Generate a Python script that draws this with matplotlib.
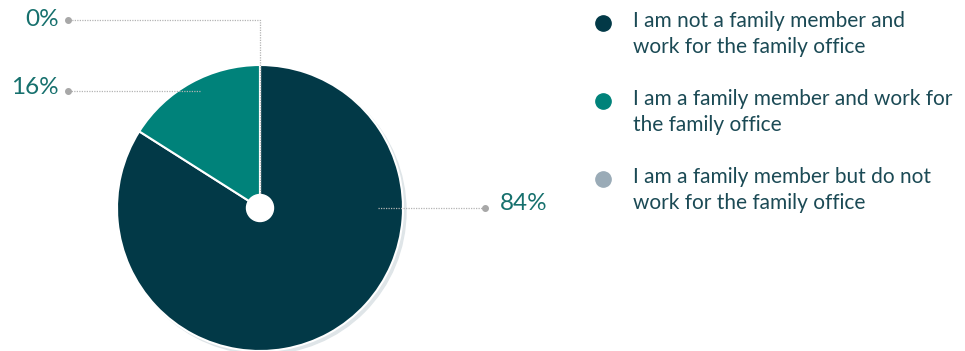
import matplotlib
matplotlib.use("Agg")
import matplotlib.pyplot as plt
from matplotlib.patches import Circle

plt.rcParams['font.family'] = ['Lato', 'DejaVu Sans']

categories = [
    "I am not a family member and\nwork for the family office",
    "I am a family member and work for\nthe family office",
    "I am a family member but do not\nwork for the family office",
]
values = [84, 16, 0]
colors = ["#023947", "#00827a", "#9aabb7"]

W, H = 965, 351
fig = plt.figure(figsize=(W / 100, H / 100), dpi=100)
ax = fig.add_axes([0, 0, 1, 1])

cx, cy, r = 260, H - 208, 143

# soft shadow behind the pie
ax.add_patch(Circle((cx + 3, cy - 3), r, color="#dfe5e8", zorder=1))

ax.pie(values, colors=colors, startangle=90, counterclock=False,
       center=(cx, cy), radius=r, frame=True,
       wedgeprops=dict(edgecolor="white", linewidth=1.5, zorder=2))
ax.set_xlim(0, W)
ax.set_ylim(0, H)
ax.set_aspect('equal')
ax.axis('off')

line_kw = dict(color="#b4b4b4", linewidth=0.9, linestyle=(0, (1, 1)), zorder=4)
dot_kw = dict(marker="o", markersize=4, color="#a8a8a8", zorder=5)
label_kw = dict(fontsize=17.5, color="#16706d", va="center", zorder=6)

# 0% leader: from the centre straight up, then left
y0 = H - 20
ax.plot([cx, cx, 68], [cy, y0, y0], **line_kw)
ax.plot([68], [y0], **dot_kw)
ax.text(59, y0 + 1, f"{values[2]}%", ha="right", **label_kw)

# 16% leader
y1 = H - 91
ax.plot([200, 68], [y1, y1], **line_kw)
ax.plot([68], [y1], **dot_kw)
ax.text(59, y1 + 3, f"{values[1]}%", ha="right", **label_kw)

# 84% leader
y2 = H - 208
ax.plot([378, 485], [y2, y2], **line_kw)
ax.plot([485], [y2], **dot_kw)
ax.text(500, y2 + 4, f"{values[0]}%", ha="left", **label_kw)

# centre hole
ax.add_patch(Circle((cx, cy), 13.5, color="white", zorder=7))

# legend
marker_y = [23, 101, 179]
for cat, col, my in zip(categories, colors, marker_y):
    ax.plot([603], [H - my], marker="o", markersize=11, color=col, zorder=5)
    for i, line in enumerate(cat.split("\n")):
        ax.text(633, H - (my - 2 + 26 * i), line, fontsize=15, color="#1b4a55",
                va="center", ha="left")

fig.savefig("out.png", dpi=100)
